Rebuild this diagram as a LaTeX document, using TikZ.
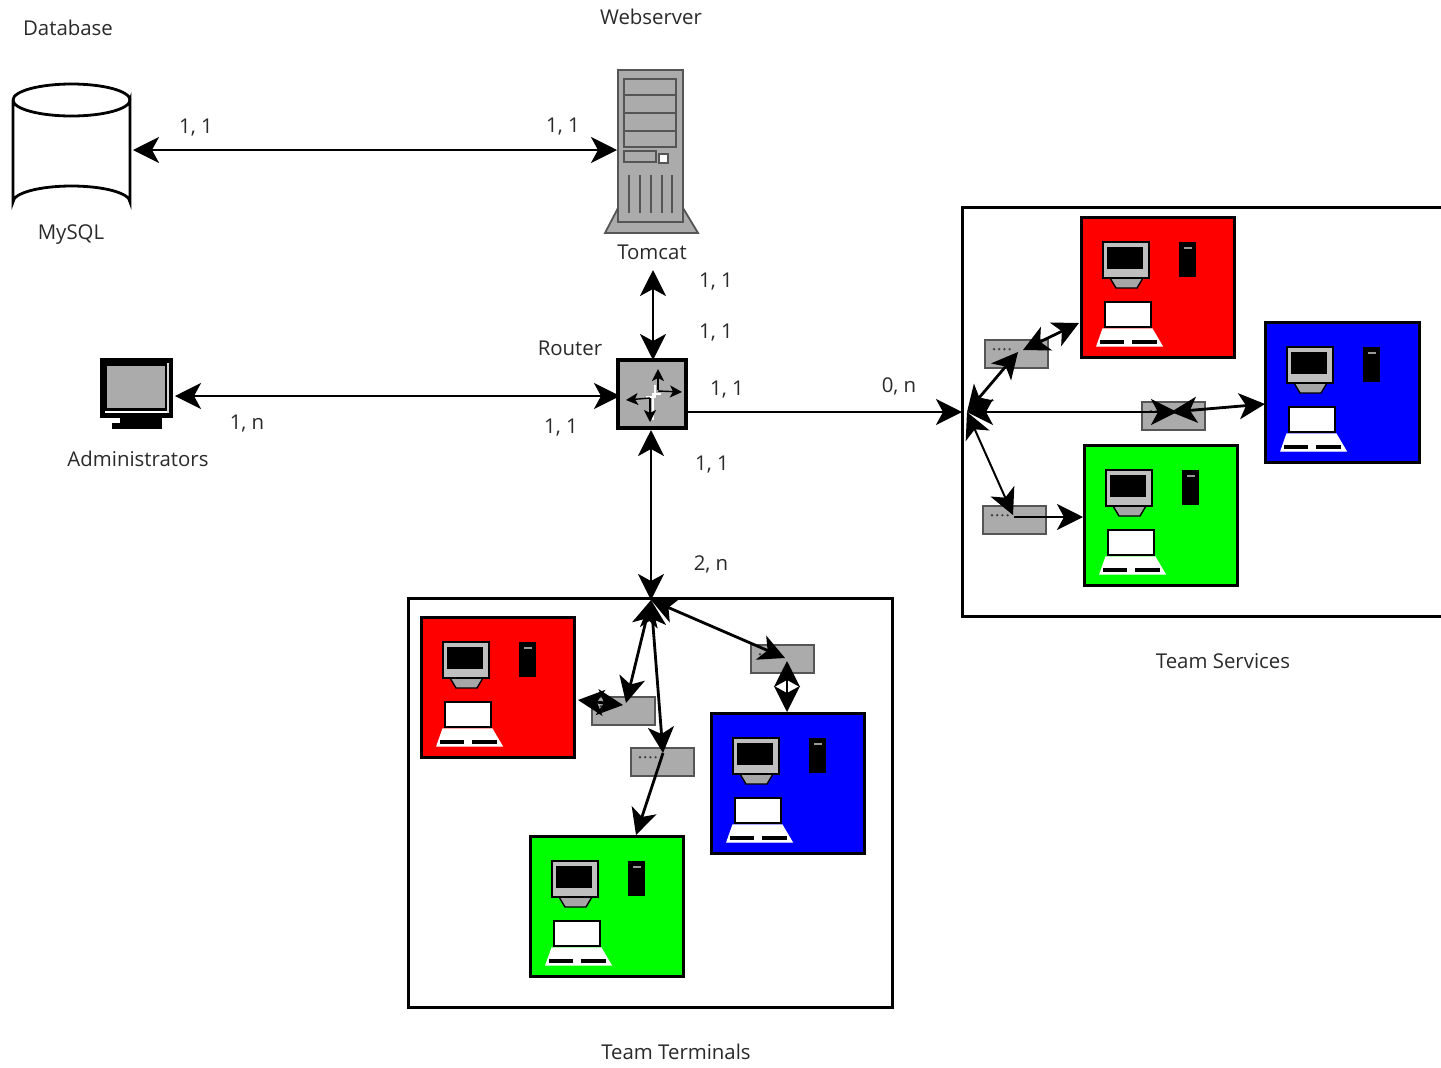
\documentclass[tikz,border=0pt]{standalone}
\usepackage{fontspec}
\setmainfont{Open Sans}
\usetikzlibrary{arrows.meta}
\definecolor{ink}{HTML}{2A2A2A}
\definecolor{devgray}{HTML}{ABABAB}
\definecolor{devedge}{HTML}{555555}
\tikzset{
  pxsize/.style 2 args={minimum width=#1*0.5pt,minimum height=#2*0.5pt,inner sep=0pt,outer sep=0pt},
  lbl/.style={font=\fontsize{10.2pt}{12pt}\selectfont,text=ink,inner sep=0pt},
  frm/.style={draw=black,line width=1.5pt,fill=none},
  team/.style={draw=black,line width=1.5pt},
  conn/.style={line width=1.4pt,black,>={Stealth[length=13pt,width=13pt,inset=3.5pt]}},
  thin conn/.style={conn,line width=1pt},
  swbox/.style={pxsize={63}{28},draw=devedge,line width=0.9pt,fill=devgray,
    path picture={
      \foreach \d in {0,1,2,3}
        \fill[black!75] ([xshift=4.5pt+\d*2.6pt,yshift=-4.6pt]path picture bounding box.north west) circle (0.65pt);
    }},
  ghost/.style={inner sep=0pt,outer sep=0pt},
  station/.pic={
    % monitor
    \filldraw[draw=black,line width=0.7pt,fill=black!35] (29,61) -- (62,61) -- (56,71) -- (35,71) -- cycle;
    \filldraw[draw=black,line width=0.7pt,fill=black!25] (22,25) rectangle (68,61);
    \fill[black] (26,30) rectangle (62,52);
    % tower
    \fill[black] (98,25) rectangle (115,60);
    \fill[black!40] (103,30) rectangle (111,32);
    % laptop
    \filldraw[draw=black,line width=1.1pt,fill=white] (24,85) rectangle (70,110);
    \filldraw[draw=white,line width=0.7pt,fill=white] (22,112) -- (71,112) -- (81,129) -- (16,129) -- cycle;
    \fill[black] (19,123) rectangle (43,127);
    \fill[black] (51,123) rectangle (76,127);
  }
}
\begin{document}
\begin{tikzpicture}[x=0.5pt,y=-0.5pt]
\useasboundingbox[fill=white] (0,0) rectangle (1441,1067);

% frames
\node[frm,pxsize={484}{409},anchor=north west] (termframe) at (408,598) {};
\begin{scope}
\clip (0,0) rectangle (1441,1067);
\node[frm,pxsize={500}{409},anchor=north west] (servframe) at (962,207) {};
\end{scope}

% terminal team
\node[team,fill=red,pxsize={153}{140},anchor=north west] (tred) at (421,617) {};
\pic at (421,617) {station};
\node[team,fill=blue,pxsize={153}{140},anchor=north west] (tblue) at (711,713) {};
\pic at (711,713) {station};
\node[team,fill=green,pxsize={153}{140},anchor=north west] (tgreen) at (530,836) {};
\pic at (530,836) {station};
% service team
\node[team,fill=red,pxsize={153}{140},anchor=north west] (sred) at (1081,217) {};
\pic at (1081,217) {station};
\node[team,fill=blue,pxsize={154}{140},anchor=north west] (sblue) at (1265,322) {};
\pic at (1265,322) {station};
\node[team,fill=green,pxsize={153}{140},anchor=north west] (sgreen) at (1084,445) {};
\pic at (1084,445) {station};

% switches
\node[swbox,anchor=north west] (tt1) at (592,697) {};
\node[swbox,anchor=north west] (tt2) at (631,748) {};
\node[swbox,anchor=north west] (tt3) at (751,645) {};
\node[swbox,anchor=north west] (sv1) at (985,340) {};
\node[swbox,anchor=north west] (sv2) at (1142,402) {};
\node[swbox,anchor=north west] (sv3) at (983,506) {};

% database
\node[ghost,pxsize={117}{135},anchor=north west] (db) at (13,83) {};
\filldraw[draw=black,line width=1.4pt,fill=white]
  (13,100) -- (13,202) arc[start angle=180,end angle=360,x radius=58.5,y radius=16]
  -- (130,100) arc[start angle=0,end angle=180,x radius=58.5,y radius=16];
\draw[black,line width=1.4pt] (13,100) arc[start angle=180,end angle=360,x radius=58.5,y radius=16];

% web server
\node[ghost,pxsize={65}{152},anchor=north west] (srv) at (618,70) {};
\filldraw[draw=devedge,line width=0.9pt,fill=devgray] (618,208) -- (605,233) -- (698,233) -- (683,208) -- cycle;
\filldraw[draw=devedge,line width=1.1pt,fill=devgray] (618,70) rectangle (683,222);
\filldraw[draw=devedge,line width=1pt,fill=devgray] (624,79) rectangle (676,147);
\foreach \yy in {95,113,131} \draw[devedge,line width=1pt] (624,\yy) -- (676,\yy);
\filldraw[draw=devedge,line width=1pt,fill=devgray] (624,151) rectangle (656,162);
\filldraw[draw=devedge,line width=1pt,fill=white] (659,154) rectangle (668,163);
\foreach \xx in {629,640,651,662,672} \draw[devedge,line width=1.2pt] (\xx,175) -- (\xx,213);

% router
\node[draw=black,line width=1.6pt,fill=devgray,pxsize={68}{68},anchor=north west] (router) at (618,360) {};
\begin{scope}[>={Stealth[length=6pt,width=6pt,inset=1.5pt]},line width=0.7pt]
\draw[white,line width=0.8pt] (655,385) -- (655,397) -- (646,397);
\draw[white,line width=0.8pt] (661,394) -- (653,394) -- (653,420);
\draw[->,black] (658,390) -- (658,369);
\draw[->,black] (658,391) -- (682,392);
\draw[->,black] (650,398) -- (626,400);
\draw[->,black] (650,398) -- (650,422);
\end{scope}

% administrators' monitor
\node[ghost,pxsize={73}{71},anchor=north west] (admin) at (100,358) {};
\fill[black] (100,358) rectangle (173,418);
\fill[devgray] (107,366) rectangle (165,408);
\fill[white] (105,411) rectangle (168,413);
\fill[black!15] (167,363) rectangle (169,413);
\fill[black] (120,418) rectangle (162,423);
\fill[black] (112,423) rectangle (162,429);

% hubs and free ends
\coordinate (tthub) at (651,600);
\coordinate (svhub) at (967,412);
\coordinate (dbe) at (133,150);
\coordinate (srvw) at (617,150);
\coordinate (srvs) at (653,270);
\coordinate (adme) at (175,396);
\coordinate (rtw) at (620,396);
\coordinate (rte) at (688,412);
\coordinate (svin) at (962,412);
\coordinate (tt1a) at (626,703);
\coordinate (tt1b) at (623,705);
\coordinate (tredp) at (578,700);
\coordinate (tt2a) at (663,753);
\coordinate (tgreenp) at (636,835);
\coordinate (tt3a) at (785,658);
\coordinate (tt3b) at (787,661);
\coordinate (tbluep) at (787,712);
\coordinate (sv1a) at (1018,352);
\coordinate (sv1b) at (1023,350);
\coordinate (sredp) at (1079,323);
\coordinate (sv2a) at (1177,412);
\coordinate (sv2b) at (1171,412);
\coordinate (sbluep) at (1265,404);
\coordinate (sv3a) at (1013,515);
\coordinate (sv3b) at (1014,517);
\coordinate (sgreenp) at (1083,517);

% connectors
\draw[conn,<->] (dbe) -- (srvw);
\draw[conn,<->] (srvs) -- (router.north -| srvs);
\draw[conn,<->] (adme) -- (rtw);
\draw[conn,->] (rte) -- (svin);
\draw[conn,<->] (router.south -| tthub) ++(0,2) -- (tthub);

\draw[conn,<->] (tthub) -- (tt1a);
\draw[conn,<->] (tredp) -- (tt1b);
\draw[conn,<->] (tthub) -- (tt2a);
\draw[conn,->] (tt2a) -- (tgreenp);
\draw[conn,<->] (tthub) -- (tt3a);
\draw[conn,<->] (tt3b) -- (tbluep);

\draw[conn,<->] (svhub) -- (sv1a);
\draw[conn,<->] (sv1b) -- (sredp);
\draw[conn,<->] (svhub) -- (sv2a);
\draw[conn,<->] (sv2b) -- (sbluep);
\draw[thin conn,<->] (svhub) -- (sv3a);
\draw[conn,->] (sv3b) -- (sgreenp);

% labels
\node[lbl] (l1) at (68,28) {Database};
\node[lbl] (l2) at (651,17) {Webserver};
\node[lbl] (l3) at (196,128) {1, 1};
\node[lbl] (l4) at (563,127) {1, 1};
\node[lbl] (l5) at (71,235) {MySQL};
\node[lbl] (l6) at (652,252) {Tomcat};
\node[lbl] (l7) at (716,282) {1, 1};
\node[lbl] (l8) at (716,333) {1, 1};
\node[lbl] (l9) at (570,348) {Router};
\node[lbl] (l10) at (727,390) {1, 1};
\node[lbl] (l11) at (899,386) {0, n};
\node[lbl] (l12) at (247,424) {1, n};
\node[lbl] (l13) at (561,428) {1, 1};
\node[lbl] (l14) at (712,465) {1, 1};
\node[lbl] (l15) at (138,459) {Administrators};
\node[lbl] (l16) at (711,564) {2, n};
\node[lbl] (l17) at (1223,661) {Team Services};
\node[lbl] (l18) at (676,1052) {Team Terminals};
\end{tikzpicture}
\end{document}
